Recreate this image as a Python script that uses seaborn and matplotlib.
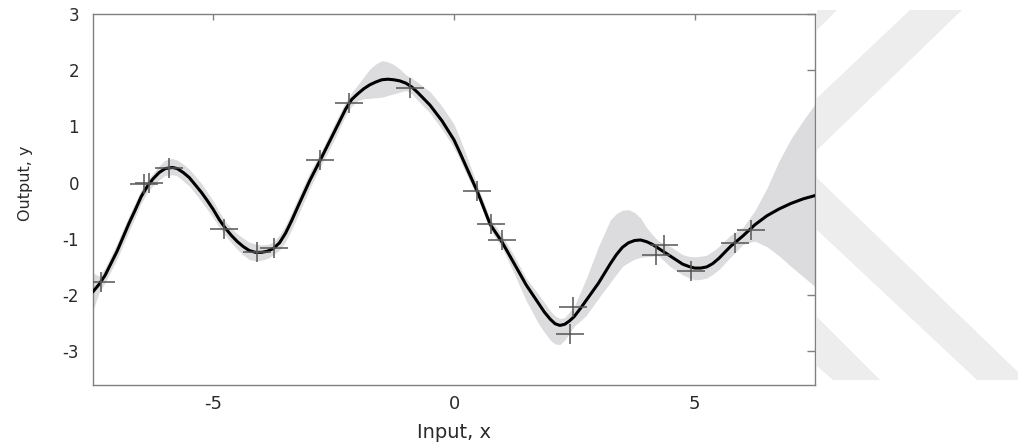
import matplotlib
matplotlib.use("Agg")
import numpy as np
import pandas as pd
from matplotlib import pyplot as plt
from matplotlib.path import Path
from matplotlib.patches import Polygon
import seaborn as sns

# values
grid_x = [-7.5, -7.375, -7.25, -7.0, -6.75, -6.625, -6.5, -6.375, -6.25, -6.125, -6.0, -5.85, -5.75,
          -5.625, -5.5, -5.25, -5.125, -5.0, -4.875, -4.75, -4.625, -4.5, -4.375, -4.25, -4.125, -4.0,
          -3.875, -3.75, -3.625, -3.5, -3.375, -3.25, -3.0, -2.75, -2.5, -2.25, -2.125, -2.0, -1.875,
          -1.75, -1.625, -1.5, -1.375, -1.25, -1.125, -1.0, -0.875, -0.75, -0.5, -0.25, 0.0,
          0.125, 0.25, 0.5, 0.75, 1.0, 1.25, 1.5, 1.75, 1.875, 2.0, 2.1, 2.2,
          2.3, 2.4, 2.5, 2.625, 2.75, 3.0, 3.25, 3.375, 3.5, 3.625, 3.75, 3.875,
          4.0, 4.125, 4.25, 4.5, 4.75, 4.875, 5.0, 5.125, 5.25, 5.375, 5.5, 5.75,
          6.0, 6.25, 6.5, 6.75, 7.0, 7.25, 7.5]
mean_y = [-1.94, -1.81, -1.65, -1.22, -0.72, -0.49, -0.25, -0.07, 0.07, 0.18, 0.25, 0.27, 0.25,
          0.18, 0.09, -0.17, -0.32, -0.48, -0.66, -0.81, -0.94, -1.05, -1.14, -1.21, -1.24, -1.24,
          -1.22, -1.17, -1.07, -0.90, -0.68, -0.44, 0.03, 0.45, 0.88, 1.31, 1.48, 1.58, 1.67,
          1.74, 1.79, 1.83, 1.84, 1.83, 1.81, 1.77, 1.70, 1.60, 1.38, 1.10, 0.76,
          0.53, 0.29, -0.19, -0.74, -1.06, -1.44, -1.82, -2.14, -2.30, -2.43, -2.51, -2.54,
          -2.52, -2.46, -2.38, -2.24, -2.09, -1.79, -1.44, -1.28, -1.15, -1.07, -1.03, -1.02,
          -1.05, -1.10, -1.17, -1.31, -1.45, -1.49, -1.52, -1.52, -1.50, -1.44, -1.35, -1.13,
          -0.95, -0.75, -0.59, -0.47, -0.37, -0.29, -0.23]
lower_y = [-2.27, -1.96, -1.78, -1.36, -0.86, -0.62, -0.37, -0.18, -0.05, 0.05, 0.13, 0.14, 0.12,
           0.03, -0.06, -0.33, -0.48, -0.63, -0.80, -0.94, -1.07, -1.19, -1.29, -1.37, -1.39, -1.38,
           -1.35, -1.28, -1.20, -1.05, -0.84, -0.60, -0.11, 0.33, 0.74, 1.20, 1.36, 1.46, 1.49,
           1.50, 1.51, 1.52, 1.55, 1.58, 1.61, 1.64, 1.58, 1.46, 1.24, 0.95, 0.62,
           0.40, 0.16, -0.28, -0.84, -1.16, -1.62, -2.10, -2.50, -2.66, -2.80, -2.87, -2.88,
           -2.80, -2.68, -2.55, -2.46, -2.36, -2.06, -1.77, -1.63, -1.49, -1.42, -1.36, -1.33,
           -1.32, -1.31, -1.30, -1.50, -1.64, -1.69, -1.73, -1.72, -1.70, -1.63, -1.55, -1.32,
           -1.10, -1.04, -1.14, -1.30, -1.49, -1.67, -1.85]
upper_y = [-1.61, -1.66, -1.52, -1.08, -0.58, -0.36, -0.13, 0.04, 0.17, 0.30, 0.40, 0.43, 0.40,
           0.33, 0.24, -0.01, -0.17, -0.33, -0.52, -0.69, -0.81, -0.91, -0.99, -1.06, -1.09, -1.11,
           -1.10, -1.06, -0.93, -0.76, -0.53, -0.29, 0.18, 0.57, 1.02, 1.44, 1.60, 1.74, 1.88,
           2.02, 2.11, 2.17, 2.15, 2.10, 2.02, 1.92, 1.86, 1.78, 1.62, 1.36, 1.04,
           0.78, 0.50, -0.08, -0.64, -0.94, -1.30, -1.70, -1.98, -2.13, -2.28, -2.37, -2.42,
           -2.40, -2.30, -2.20, -1.95, -1.70, -1.14, -0.66, -0.55, -0.49, -0.48, -0.53, -0.63,
           -0.80, -0.93, -1.04, -1.14, -1.28, -1.31, -1.32, -1.31, -1.29, -1.22, -1.14, -0.93,
           -0.80, -0.50, -0.10, 0.38, 0.78, 1.10, 1.40]

obs_x = [-7.33, -6.44, -6.33, -5.92, -4.77, -4.09, -3.73, -2.79, -2.19, -0.92,
         0.47, 0.76, 0.99, 2.40, 2.47, 4.20, 4.36, 4.92, 5.84, 6.17]
obs_y = [-1.76, -0.03, 0.00, 0.26, -0.82, -1.23, -1.17, 0.40, 1.42, 1.69,
         -0.15, -0.74, -1.02, -2.69, -2.22, -1.28, -1.11, -1.57, -1.07, -0.85]

x_ticks = [-5, 0, 5]
y_ticks = [-3, -2, -1, 0, 1, 2, 3]

curve = pd.DataFrame({"x": grid_x, "mean": mean_y, "lo": lower_y, "hi": upper_y})
obs = pd.DataFrame({"x": obs_x, "y": obs_y})

sns.set_theme(style="white")
plt.rcParams["font.family"] = ["DejaVu Sans"]
plt.rcParams["axes.unicode_minus"] = False

W, H = 1018, 443
fig = plt.figure(figsize=(W / 100, H / 100), dpi=100)
ax = fig.add_axes([93 / W, 1 - 385 / H, (815 - 93) / W, (385 - 14) / H])
ax.set_facecolor("white")

# light watermark shapes outside the plot, behind the axes
wm_shapes = [
    [(910, 10), (962, 10), (817, 150), (817, 98)],
    [(817, 178), (1018, 372), (1018, 380), (977, 380), (817, 230)],
    [(817, 317), (880, 380), (833, 380), (817, 366)],
    [(817, 10), (837, 10), (817, 30)],
]
for shape in wm_shapes:
    pts = [(px / W, 1 - py / H) for px, py in shape]
    fig.patches.append(Polygon(pts, closed=True, transform=fig.transFigure,
                               facecolor="#ededed", edgecolor="none", zorder=-5))

ax.fill_between(curve["x"], curve["lo"], curve["hi"], color="#dcdcde", lw=0, zorder=1)
sns.lineplot(data=curve, x="x", y="mean", color="black", lw=2.2, ax=ax, zorder=3)

cross = Path([(-1, 0), (1, 0), (0, -0.74), (0, 0.74)],
             [Path.MOVETO, Path.LINETO, Path.MOVETO, Path.LINETO])
sns.scatterplot(data=obs, x="x", y="y", marker=cross, s=380, color="#555555",
                edgecolor="#555555", linewidth=1.1, ax=ax, zorder=4)

ax.set_xlim(-7.5, 7.5)
ax.set_ylim(-3.6, 3)
ax.set_xticks(x_ticks)
ax.set_yticks(y_ticks)
ax.tick_params(axis="both", direction="in", top=True, right=True, color="#808080",
               width=1, labelcolor="#2a2a2a")
ax.tick_params(axis="x", length=4, pad=7, labelsize=13)
ax.tick_params(axis="y", length=6, pad=10, labelsize=12)
for sp in ax.spines.values():
    sp.set_color("#808080")
    sp.set_linewidth(1)

ax.set_xlabel("Input, x", fontsize=14, color="#2a2a2a")
ax.set_ylabel("Output, y", fontsize=11.5, color="#2a2a2a")
ax.xaxis.set_label_coords(0.5, -0.102)
ax.yaxis.set_label_coords(-0.083, 0.545)

fig.savefig("out.png", dpi=100)
